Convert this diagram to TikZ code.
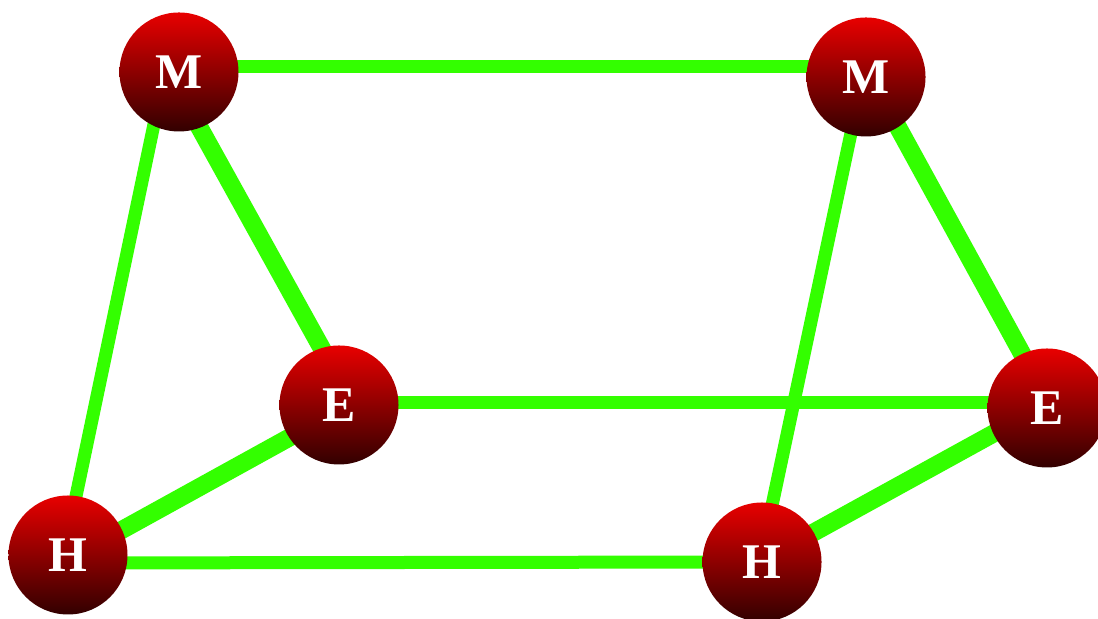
\documentclass[tikz,border=0pt]{standalone}
\usepackage{fontspec}
\setmainfont{Liberation Serif}
\usetikzlibrary{backgrounds}
\definecolor{edgegreen}{RGB}{51,255,0}
\definecolor{balltop}{RGB}{232,0,0}
\definecolor{ballbot}{RGB}{50,0,0}
\tikzset{
  ball/.style={circle, minimum size=1.19cm, inner sep=0pt, top color=balltop, bottom color=ballbot, text=white, font=\bfseries\fontsize{14.2}{16}\selectfont},
  thinedge/.style={draw=edgegreen, line width=0.13cm},
  thickedge/.style={draw=edgegreen, line width=0.18cm},
}
\begin{document}
\begin{tikzpicture}
\useasboundingbox (0,0) rectangle (10.98,6.19);
% sphere centres
\node[ball] (M1) at (1.79,5.47) {M};
\node[ball] (M2) at (8.66,5.42) {M};
\node[ball] (E1) at (3.39,2.14) {E};
\node[ball] (E2) at (10.47,2.11) {E};
\node[ball] (H1) at (0.68,0.64) {H};
\node[ball] (H2) at (7.62,0.57) {H};
% bond ends (slightly off the sphere centres, as in the picture)
\coordinate (bM1) at ([shift={(-0.13,0.05)}]M1.center);
\coordinate (bM2) at ([shift={(-0.01,0.10)}]M2.center);
\coordinate (bE1) at ([shift={(0.13,0.02)}]E1.center);
\coordinate (bE2) at ([shift={(0.02,0.05)}]E2.center);
\coordinate (bH1) at ([shift={(-0.06,-0.08)}]H1.center);
\coordinate (bH2) at ([shift={(-0.02,0.0)}]H2.center);
\begin{pgfonlayer}{background}
\draw[thinedge] (bM1) -- (bM2);
\draw[thickedge] (bM1) -- (bE1);
\draw[thinedge] (bM1) -- (bH1);
\draw[thinedge] (bE1) -- (bE2);
\draw[thickedge] (bE1) -- (bH1);
\draw[thinedge] (bH1) -- (bH2);
\draw[thinedge] (bM2) -- (bH2);
\draw[thickedge] (bM2) -- (bE2);
\draw[thickedge] (bE2) -- (bH2);
\end{pgfonlayer}
\end{tikzpicture}
\end{document}
